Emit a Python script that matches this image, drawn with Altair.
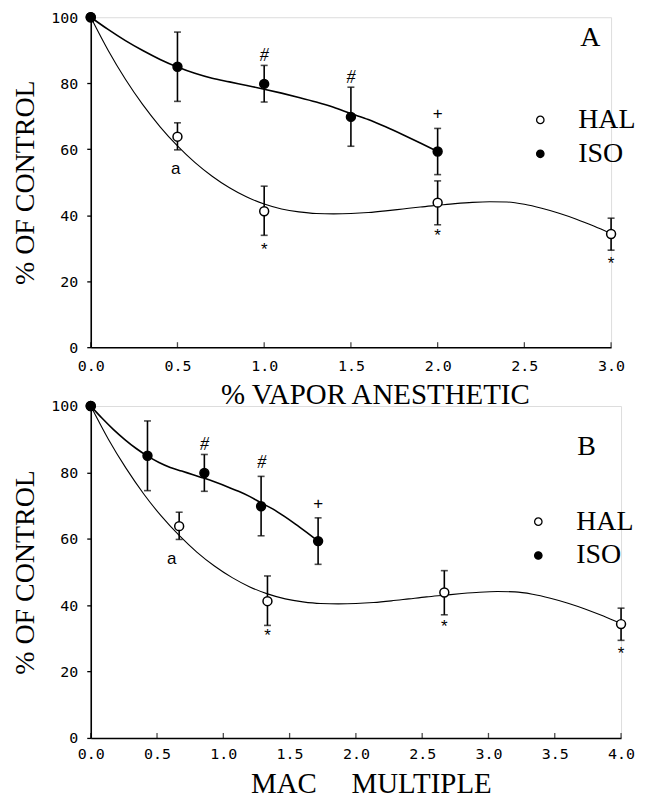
import altair as alt
import pandas as pd

SERIES = ["HAL", "ISO"]

# ---- means and error-bar limits (% of control)
hal_y = [100, 63.8, 41.2, 43.8, 34.3]
hal_lo = [None, 59.8, 33.9, 37.1, 29.4]
hal_hi = [None, 68.0, 48.8, 50.4, 39.1]
iso_y = [100, 85.0, 79.8, 69.8, 59.3]
iso_lo = [None, 74.5, 74.3, 60.9, 52.3]
iso_hi = [None, 95.5, 85.4, 78.8, 66.3]

# panel A: % vapor anesthetic
a_hal_x = [0.0, 0.5, 1.0, 2.0, 3.0]
a_iso_x = [0.0, 0.5, 1.0, 1.5, 2.0]
# panel B: MAC multiple
b_hal_x = [0.0, 0.667, 1.333, 2.667, 4.0]
b_iso_x = [0.0, 0.428, 0.857, 1.285, 1.715]

# fitted curves
hal_curve_y = [100, 90.0, 81.2, 73.5, 66.8, 61.0, 56.0, 51.8, 48.3, 45.5, 43.4,
               41.9, 41.0, 40.5, 40.4, 40.5, 40.8, 41.3, 41.9, 42.5, 43.0,
               43.5, 43.9, 44.1, 44.0, 43.3, 42.1, 40.6, 38.8, 36.7, 34.4]
a_hal_curve_x = [0.0, 0.1, 0.2, 0.3, 0.4, 0.5, 0.6, 0.7, 0.8, 0.9, 1.0,
                 1.1, 1.2, 1.3, 1.4, 1.5, 1.6, 1.7, 1.8, 1.9, 2.0,
                 2.1, 2.2, 2.3, 2.4, 2.5, 2.6, 2.7, 2.8, 2.9, 3.0]
b_hal_curve_x = [0.0, 0.133, 0.267, 0.4, 0.533, 0.667, 0.8, 0.933, 1.067, 1.2, 1.333,
                 1.467, 1.6, 1.733, 1.867, 2.0, 2.133, 2.267, 2.4, 2.533, 2.667,
                 2.8, 2.933, 3.067, 3.2, 3.333, 3.467, 3.6, 3.733, 3.867, 4.0]
iso_curve_y = [100, 96.3, 92.9, 89.9, 87.2, 84.9, 83.0, 81.5, 80.4, 79.3, 78.2,
               77.0, 75.7, 74.3, 72.7, 70.8, 69.0, 66.8, 64.4, 61.9, 59.3]
a_iso_curve_x = [0.0, 0.1, 0.2, 0.3, 0.4, 0.5, 0.6, 0.7, 0.8, 0.9, 1.0,
                 1.1, 1.2, 1.3, 1.4, 1.5, 1.6, 1.7, 1.8, 1.9, 2.0]
b_iso_curve_x = [0.0, 0.086, 0.172, 0.257, 0.343, 0.429, 0.515, 0.6, 0.686, 0.772, 0.858,
                 0.943, 1.029, 1.115, 1.201, 1.286, 1.372, 1.458, 1.544, 1.629, 1.715]

# significance marks
ann_text = ["a", "*", "*", "*", "#", "#", "+"]
a_ann_x = [0.49, 1.0, 2.0, 3.0, 1.0, 1.5, 2.0]
a_ann_y = [54.0, 29.6, 33.6, 25.3, 88.2, 81.7, 70.6]
b_ann_x = [0.61, 1.333, 2.667, 4.0, 0.858, 1.29, 1.715]
b_ann_y = [53.8, 30.8, 33.3, 25.3, 88.3, 82.8, 70.5]

# panel letters
a_letter = ("A", 2.88, 93.7)
b_letter = ("B", 3.74, 87.7)

y_ticks = [0, 20, 40, 60, 80, 100]
a_x_ticks = [0.0, 0.5, 1.0, 1.5, 2.0, 2.5, 3.0]
b_x_ticks = [0.0, 0.5, 1.0, 1.5, 2.0, 2.5, 3.0, 3.5, 4.0]


def panel(hal_x, iso_x, hal_cx, iso_cx, ann_x, ann_y, letter, x_ticks, xmax,
          width, height, xtitle, label_pad, title_pad, title_x, legend_xy):
    pts = pd.DataFrame({
        "x": list(hal_x) + list(iso_x),
        "y": list(hal_y) + list(iso_y),
        "lo": list(hal_lo) + list(iso_lo),
        "hi": list(hal_hi) + list(iso_hi),
        "series": ["HAL"] * len(hal_x) + ["ISO"] * len(iso_x),
    })
    err = pts.dropna()
    hal_curve = pd.DataFrame({"x": hal_cx, "y": hal_curve_y})
    iso_curve = pd.DataFrame({"x": iso_cx, "y": iso_curve_y})
    ann = pd.DataFrame({"t": ann_text, "x": ann_x, "y": ann_y})
    let = pd.DataFrame({"t": [letter[0]], "x": [letter[1]], "y": [letter[2]]})
    ticks = pd.DataFrame({"x": x_ticks, "y": [0] * len(x_ticks)})

    xs = alt.Scale(domain=[0, xmax], nice=False, zero=False)
    ys = alt.Scale(domain=[0, 100], nice=False)
    X = alt.X("x:Q", scale=xs, axis=alt.Axis(
        values=x_ticks, format=".1f", grid=False, ticks=False,
        labelFont="DejaVu Sans Mono", labelFontSize=15, labelColor="black",
        labelPadding=label_pad, labelFlush=False, labelOverlap=False,
        domainColor="black", domainWidth=1.6,
        title=xtitle, titleFont="Liberation Serif", titleFontSize=29,
        titleFontWeight="normal", titleColor="black", titlePadding=title_pad,
        titleX=title_x))
    Y = alt.Y("y:Q", scale=ys, axis=alt.Axis(
        values=y_ticks, format="d", grid=False, tickSize=4, tickWidth=1.3,
        tickColor="black", labelFont="DejaVu Sans Mono", labelFontSize=15,
        labelColor="black", labelPadding=9, labelFlush=False,
        domainColor="black", domainWidth=1.6,
        title="% OF CONTROL", titleFont="Liberation Serif", titleFontSize=28,
        titleFontWeight="normal", titleColor="black", titlePadding=11))

    hal_line = alt.Chart(hal_curve).mark_line(
        color="black", strokeWidth=1.1, interpolate="monotone").encode(x=X, y=Y)
    iso_line = alt.Chart(iso_curve).mark_line(
        color="black", strokeWidth=1.6, interpolate="monotone").encode(x="x:Q", y="y:Q")
    bars = alt.Chart(err).mark_rule(color="black", strokeWidth=1.6).encode(
        x="x:Q", y="lo:Q", y2="hi:Q")
    cap_lo = alt.Chart(err).mark_tick(color="black", orient="horizontal", size=7,
                                      thickness=1.6).encode(x="x:Q", y="lo:Q")
    cap_hi = alt.Chart(err).mark_tick(color="black", orient="horizontal", size=7,
                                      thickness=1.6).encode(x="x:Q", y="hi:Q")
    points = alt.Chart(pts).mark_point(
        shape="circle", filled=True, size=80, stroke="black", strokeWidth=1.5,
        opacity=1).encode(
        x="x:Q", y="y:Q",
        fill=alt.Fill("series:N", scale=alt.Scale(domain=SERIES, range=["white", "black"]),
                      legend=alt.Legend(
                          orient="none", legendX=legend_xy[0], legendY=legend_xy[1],
                          offset=0, padding=0, title=None,
                          labelFont="Liberation Serif", labelFontSize=28,
                          labelColor="black", symbolType="circle", symbolSize=55,
                          symbolStrokeColor="black", symbolStrokeWidth=1.3,
                          labelOffset=24, rowPadding=6, labelLimit=80)))
    marks = alt.Chart(ann).transform_filter(alt.datum.t != "#").mark_text(
        font="Liberation Sans", fontSize=17, color="black", baseline="middle").encode(
        x="x:Q", y="y:Q", text="t:N")
    hashes = alt.Chart(ann).transform_filter(alt.datum.t == "#").mark_text(
        font="Liberation Serif", fontSize=18, fontStyle="italic", color="black",
        baseline="middle").encode(x="x:Q", y="y:Q", text="t:N")
    letter_mark = alt.Chart(let).mark_text(
        font="Liberation Serif", fontSize=28, color="black", baseline="middle").encode(
        x="x:Q", y="y:Q", text="t:N")
    inner_ticks = alt.Chart(ticks).mark_tick(
        color="black", orient="vertical", size=5, thickness=1.3, yOffset=-2.5).encode(
        x="x:Q", y="y:Q")

    return alt.layer(hal_line, iso_line, bars, cap_lo, cap_hi, points, marks, hashes,
                     letter_mark, inner_ticks).properties(width=width, height=height)


top = panel(a_hal_x, a_iso_x, a_hal_curve_x, a_iso_curve_x,
            a_ann_x, a_ann_y, a_letter, a_x_ticks, 3.0, 522, 331,
            "% VAPOR ANESTHETIC", 11, 7, 285, (437, 89))
bottom = panel(b_hal_x, b_iso_x, b_hal_curve_x, b_iso_curve_x,
               b_ann_x, b_ann_y, b_letter, b_x_ticks, 4.0, 532, 333,
               "MAC\u2003\u2009MULTIPLE", 9, 8, 281, (435, 102))

chart = alt.vconcat(top, bottom, spacing=59, bounds="flush").resolve_scale(
    x="independent", y="independent", fill="independent"
).resolve_legend(fill="independent").configure_view(stroke=None).configure(
    padding={"left": 3, "top": 0, "right": 0, "bottom": 0}, background="white")

chart.save("out.html", embed_options={"renderer": "svg", "actions": False})
